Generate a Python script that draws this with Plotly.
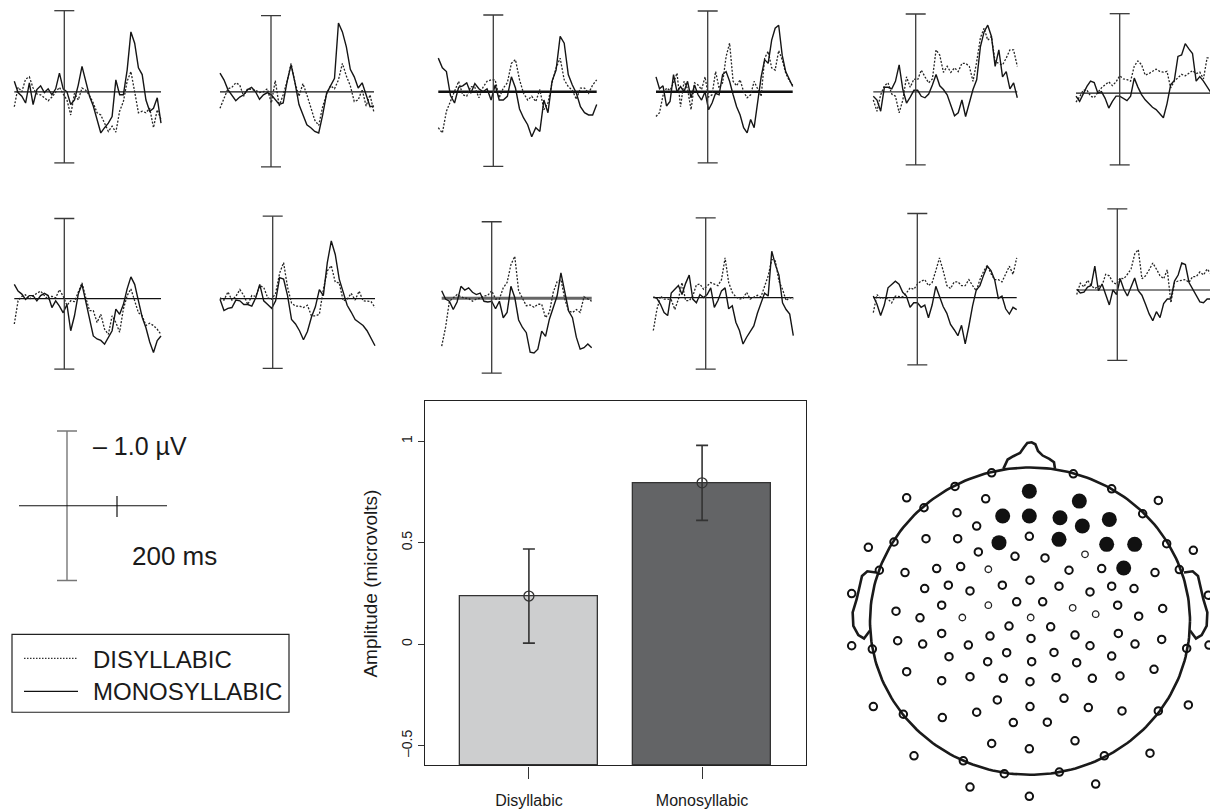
import numpy as np
import plotly.graph_objects as go

# page body adds an 8px margin; the figure is sized and positioned to compensate
OFF = 8
SCREEN_W, SCREEN_H = 1218, 809
W, H = SCREEN_W - OFF, SCREEN_H - OFF
FONT = "Liberation Sans, Arial, sans-serif"
DOT = "2px,1.6px"

# ---------------- ERP data (time in ms, amplitude in microvolts) ----------------
T = [-200, -185, -170, -155, -140, -125, -110, -95, -80, -65, -50, -35, -20, -5, 10, 25, 40, 55, 70, 85,
     100, 115, 130, 145, 160, 175, 190, 205, 220, 235, 250, 265, 280, 295, 310, 325, 340, 355, 370, 385]

P1_MONO = [0.14, -0.01, -0.06, -0.15, 0.12, -0.17, 0.03, 0.08, -0.01, 0.04, -0.04, 0.04, 0.25, 0.04, 0.0, -0.17, -0.11, 0.09, 0.34, 0.12,
           -0.06, -0.19, -0.37, -0.55, -0.48, -0.42, -0.33, 0.16, -0.04, -0.04, 0.29, 0.80, 0.65, 0.32, 0.23, -0.11, -0.26, -0.22, -0.08, -0.42]
P1_DIS = [-0.20, 0.06, 0.0, 0.17, 0.20, 0.05, -0.03, -0.04, -0.08, -0.12, -0.07, -0.01, 0.06, -0.03, -0.11, -0.31, -0.02, -0.11, 0.05, 0.02,
          -0.05, -0.15, -0.28, -0.31, -0.41, -0.53, -0.46, -0.54, -0.26, -0.13, 0.14, 0.27, 0.0, -0.28, -0.26, -0.28, -0.22, -0.48, -0.24, -0.37]
P2_MONO = [0.25, 0.16, 0.03, -0.04, -0.12, -0.07, -0.04, 0.03, 0.06, 0.0, -0.10, -0.04, -0.01, -0.04, -0.11, -0.17, -0.15, 0.14, 0.36, 0.12,
           -0.17, -0.31, -0.44, -0.48, -0.53, -0.55, -0.31, -0.02, 0.09, 0.18, 0.92, 0.80, 0.60, 0.30, 0.20, 0.05, 0.12, -0.05, -0.20, -0.19]
P2_DIS = [-0.22, -0.08, 0.04, 0.06, 0.12, 0.09, -0.06, 0.04, 0.03, 0.02, -0.01, 0.0, 0.04, -0.15, 0.15, -0.19, -0.04, 0.14, 0.38, 0.12,
          -0.06, 0.11, -0.04, -0.22, -0.38, -0.45, -0.20, -0.03, 0.08, 0.04, 0.16, 0.38, 0.21, 0.08, -0.13, -0.11, 0.03, -0.19, -0.04, -0.28]
P3_MONO = [0.45, 0.32, 0.27, -0.05, -0.15, 0.06, 0.08, 0.12, -0.02, 0.11, 0.04, 0.0, 0.04, -0.11, 0.09, -0.11, -0.11, -0.06, 0.20, 0.05,
           -0.23, -0.35, -0.44, -0.60, -0.48, -0.53, -0.11, -0.28, 0.14, 0.29, 0.74, 0.65, 0.23, 0.09, -0.02, -0.20, -0.28, -0.31, -0.31, -0.17]
P3_DIS = [-0.48, -0.55, -0.26, -0.13, 0.02, 0.14, -0.04, -0.06, 0.07, 0.06, -0.08, 0.06, 0.14, 0.16, 0.16, -0.08, 0.05, 0.12, 0.38, 0.43,
          0.16, -0.02, -0.11, -0.06, -0.13, 0.03, -0.24, -0.15, 0.12, 0.32, 0.45, 0.16, 0.07, 0.02, -0.10, 0.05, 0.05, -0.02, 0.09, 0.16]
P4_MONO = [0.20, 0.04, 0.08, -0.19, -0.13, 0.23, 0.0, 0.07, 0.0, 0.14, -0.08, 0.09, -0.04, -0.11, 0.0, -0.24, -0.15, -0.02, -0.04, 0.23,
           0.27, 0.14, -0.04, -0.20, -0.31, -0.48, -0.55, -0.37, -0.48, -0.15, 0.20, 0.43, 0.38, 0.69, 0.85, 0.89, 0.49, 0.27, 0.18, 0.07]
P4_DIS = [-0.33, -0.28, -0.05, 0.05, 0.02, 0.12, 0.25, -0.20, 0.14, 0.04, -0.24, 0.12, 0.09, 0.03, 0.20, -0.07, -0.04, 0.27, 0.05, 0.12,
          0.47, 0.65, 0.14, 0.08, 0.16, 0.0, -0.08, -0.04, 0.14, 0.05, -0.06, 0.45, 0.54, 0.32, 0.29, 0.55, 0.43, 0.25, 0.15, 0.09]
P5_MONO = [-0.06, -0.11, -0.26, 0.06, 0.06, 0.04, 0.14, 0.36, 0.03, -0.15, -0.07, 0.02, 0.02, -0.06, -0.08, -0.03, 0.09, 0.23, 0.08, 0.03,
           -0.04, -0.17, -0.32, -0.28, -0.11, -0.33, -0.15, 0.03, 0.16, 0.60, 0.80, 0.89, 0.74, 0.34, 0.56, 0.20, 0.27, 0.04, 0.12, -0.08]
P5_DIS = [-0.11, -0.26, -0.04, 0.08, 0.12, -0.03, -0.06, -0.28, -0.11, 0.20, 0.06, 0.17, 0.16, 0.29, 0.20, 0.12, 0.17, 0.56, 0.49, 0.26,
          0.34, 0.26, 0.32, 0.27, 0.38, 0.38, 0.34, 0.14, 0.40, 0.72, 0.85, 0.69, 0.74, 0.40, 0.38, 0.36, 0.45, 0.56, 0.56, 0.34]
P6_MONO = [-0.04, -0.11, -0.01, 0.09, 0.16, 0.14, 0.0, 0.02, -0.07, -0.20, -0.11, -0.04, -0.04, -0.07, -0.10, -0.04, 0.20, 0.08, -0.02, -0.09,
           -0.14, -0.19, -0.22, -0.28, -0.33, -0.14, 0.11, 0.17, 0.49, 0.51, 0.66, 0.59, 0.53, 0.16, 0.22, 0.16, 0.09, 0.01, 0.17, 0.18]
P6_DIS = [-0.12, -0.05, 0.04, 0.04, -0.04, -0.06, 0.01, 0.07, 0.11, 0.15, 0.10, 0.15, 0.23, 0.19, 0.18, 0.16, 0.36, 0.43, 0.38, 0.24,
          0.26, 0.29, 0.32, 0.29, 0.28, 0.29, 0.07, 0.16, 0.21, 0.25, 0.23, 0.27, 0.30, 0.26, 0.28, 0.19, 0.47, 0.47, 0.42, 0.38]
P7_MONO = [0.19, 0.10, 0.06, -0.01, 0.04, 0.04, -0.03, 0.04, 0.07, 0.04, -0.12, -0.03, -0.10, -0.19, -0.08, -0.43, -0.23, 0.06, 0.19, -0.05,
           -0.28, -0.50, -0.54, -0.56, -0.61, -0.52, -0.43, -0.14, -0.21, -0.08, 0.13, 0.29, 0.19, -0.03, -0.25, -0.39, -0.58, -0.72, -0.56, -0.50]
P7_DIS = [-0.34, -0.03, 0.03, 0.05, -0.01, 0.04, 0.07, 0.10, 0.04, -0.01, 0.03, 0.01, 0.12, 0.03, -0.09, -0.03, -0.04, 0.09, 0.21, 0.01,
          -0.16, -0.16, -0.32, -0.21, -0.41, -0.48, -0.23, -0.32, -0.45, -0.14, 0.04, 0.13, -0.02, -0.19, -0.23, -0.36, -0.33, -0.36, -0.41, -0.48]
P8_MONO = [-0.01, -0.16, -0.13, -0.12, -0.02, -0.03, -0.08, -0.08, -0.10, 0.01, 0.19, -0.03, -0.08, -0.13, -0.03, 0.28, 0.26, 0.04, -0.28, -0.34,
           -0.43, -0.55, -0.44, -0.25, -0.11, 0.12, 0.04, 0.48, 0.77, 0.59, 0.26, 0.09, -0.09, -0.18, -0.28, -0.32, -0.36, -0.43, -0.54, -0.63]
P8_DIS = [0.01, -0.02, 0.09, -0.02, 0.03, 0.12, 0.04, -0.08, 0.04, 0.03, 0.17, 0.15, 0.01, -0.01, 0.07, 0.34, 0.48, 0.15, -0.06, -0.10,
          -0.10, -0.12, -0.09, -0.23, -0.23, -0.21, 0.12, 0.37, 0.44, 0.22, 0.21, -0.03, -0.01, 0.07, -0.02, 0.10, -0.03, -0.03, -0.04, -0.12]
P9_MONO = [0.10, -0.01, -0.04, -0.15, -0.05, 0.16, 0.11, 0.14, 0.08, 0.05, 0.07, -0.04, -0.05, -0.04, -0.14, -0.04, -0.26, -0.19, 0.16, 0.01,
           -0.29, -0.39, -0.46, -0.72, -0.73, -0.68, -0.44, -0.51, -0.28, -0.11, 0.03, 0.34, 0.08, -0.17, -0.26, -0.52, -0.68, -0.66, -0.61, -0.66]
P9_DIS = [-0.64, -0.39, -0.04, 0.01, 0.05, 0.02, 0.0, 0.0, -0.04, -0.01, 0.0, 0.03, 0.04, 0.10, -0.01, -0.01, 0.14, 0.21, 0.45, 0.56,
          0.10, 0.0, -0.10, -0.09, -0.12, -0.08, -0.08, -0.26, -0.19, 0.08, 0.22, 0.25, -0.01, -0.17, -0.19, -0.15, -0.19, 0.02, -0.01, -0.04]
P10_MONO = [0.01, -0.01, -0.09, -0.20, -0.24, 0.06, 0.11, 0.16, 0.04, 0.19, 0.30, -0.02, -0.07, 0.04, 0.0, 0.04, 0.13, -0.13, -0.04, 0.09,
            0.13, -0.15, -0.11, -0.33, -0.44, -0.62, -0.53, -0.46, -0.38, -0.21, -0.07, 0.06, 0.02, 0.62, 0.44, 0.30, -0.07, -0.16, -0.22, -0.51]
P10_DIS = [-0.44, -0.16, 0.02, -0.02, -0.02, -0.03, -0.16, -0.02, 0.20, -0.04, -0.04, 0.02, 0.17, 0.18, 0.11, 0.16, 0.20, 0.18, 0.16, 0.24,
           0.53, 0.20, 0.07, 0.01, -0.02, -0.01, 0.07, -0.02, 0.0, 0.03, 0.01, 0.16, 0.29, 0.51, 0.49, 0.22, 0.11, -0.04, 0.0, -0.02]
P11_MONO = [0.02, -0.09, -0.24, -0.10, 0.13, 0.18, 0.22, 0.18, 0.07, 0.02, -0.13, -0.07, -0.07, -0.13, -0.10, -0.27, -0.10, 0.15, 0.0, -0.12,
            -0.21, -0.36, -0.43, -0.51, -0.37, -0.62, -0.38, -0.11, 0.10, 0.16, 0.30, 0.42, 0.36, 0.24, -0.01, 0.02, -0.15, -0.22, -0.13, -0.16]
P11_DIS = [-0.20, 0.04, -0.01, 0.0, -0.02, -0.07, 0.02, 0.02, 0.01, 0.06, 0.13, 0.11, 0.18, 0.22, 0.24, 0.16, 0.20, 0.36, 0.53, 0.36,
           0.16, 0.12, 0.21, 0.21, 0.16, 0.16, 0.24, 0.16, 0.09, 0.24, 0.35, 0.43, 0.32, 0.24, 0.24, 0.21, 0.32, 0.42, 0.31, 0.53]
P12_MONO = [0.01, -0.04, -0.03, 0.04, 0.06, 0.32, -0.01, 0.08, -0.06, -0.20, 0.0, -0.06, 0.15, 0.01, -0.08, 0.05, 0.16, -0.01, -0.07, -0.19,
            -0.32, -0.41, -0.29, -0.37, -0.18, -0.12, -0.12, 0.12, 0.20, 0.36, 0.34, 0.10, 0.01, -0.08, -0.16, -0.17, -0.12, -0.12, -0.10, -0.26]
P12_DIS = [-0.06, 0.09, 0.04, 0.13, 0.06, 0.02, 0.05, 0.06, 0.21, 0.19, 0.10, 0.08, 0.16, 0.15, 0.21, 0.28, 0.48, 0.54, 0.15, 0.19,
           0.27, 0.36, 0.28, 0.19, 0.15, 0.27, -0.17, 0.10, 0.12, 0.13, 0.14, 0.10, 0.18, 0.18, 0.24, 0.20, 0.28, 0.22, 0.36, 0.32]

# ---------------- bar chart data ----------------
CONDITIONS = ["Disyllabic", "Monosyllabic"]
MEAN_AMP = [0.237, 0.795]
ERR_AMP = [0.232, 0.185]
BAR_COLORS = ["#cdcecf", "#636466"]

# ---------------- sensor layout (head-image units) ----------------
SENS_X = [455, 700, 345, 815, 200, 437, 955, 252, 908, 351, 410, 258, 353, 568, 162, 980, 85, 1060, 415, 525, 615,
          118, 195, 290, 362, 687, 785, 945, 1018, 570, 325, 487, 657, 815, 882, 254, 390, 750, 35, 1105, 530, 608,
          305, 833, 968, 168, 240, 896, 507, 632, 305, 450, 705, 835, 173, 248, 385, 573, 750, 885, 965, 35, 97,
          1040, 1107, 500, 642, 327, 815, 443, 575, 710, 200, 942, 305, 390, 490, 648, 757, 840, 570, 472, 672,
          100, 410, 570, 745, 846, 1045, 190, 955, 307, 520, 622, 455, 568, 705, 222, 930, 370, 793, 493, 658,
          390, 767, 568]
SENS_Y = [132, 135, 173, 180, 207, 210, 215, 237, 255, 252, 292, 330, 330, 323, 340, 345, 356, 365, 370, 383, 388,
          425, 432, 420, 414, 425, 420, 432, 423, 455, 470, 470, 473, 473, 480, 480, 487, 490, 495, 500, 520, 520,
          530, 530, 540, 548, 568, 563, 593, 595, 615, 623, 620, 615, 637, 647, 650, 630, 652, 647, 633, 652, 662,
          660, 650, 673, 672, 685, 683, 700, 700, 703, 730, 723, 757, 745, 750, 748, 750, 743, 760, 815, 810,
          835, 852, 835, 838, 848, 830, 858, 848, 868, 883, 882, 946, 962, 938, 983, 975, 998, 983, 1037, 1032,
          1077, 1068, 1105]
SMALL_X = [445, 445, 367, 572, 735, 698, 767]
SMALL_Y = [422, 530, 567, 567, 377, 538, 557]
SIG_X = [568, 718, 488, 568, 660, 727, 808, 477, 657, 800, 884, 851]
SIG_Y = [187, 217, 262, 262, 267, 292, 272, 342, 332, 347, 347, 418]

# panel placement (screen pixels) and styles
PANELS = [
    dict(mono=P1_MONO, dis=P1_DIS, L=14.3, R=161.0, base=92.0, V=64.3, top=10.7, bot=163.3, bw=1.2, bc="#111"),
    dict(mono=P2_MONO, dis=P2_DIS, L=220.0, R=374.0, base=92.0, V=271.0, top=15.7, bot=167.3, bw=1.2, bc="#111"),
    dict(mono=P3_MONO, dis=P3_DIS, L=438.3, R=596.7, base=92.0, V=493.3, top=15.0, bot=166.7, bw=2.6, bc="#111"),
    dict(mono=P4_MONO, dis=P4_DIS, L=656.0, R=792.7, base=92.0, V=707.7, top=11.0, bot=163.3, bw=2.4, bc="#111"),
    dict(mono=P5_MONO, dis=P5_DIS, L=873.3, R=1017.3, base=92.0, V=915.7, top=14.0, bot=165.3, bw=1.3, bc="#333"),
    dict(mono=P6_MONO, dis=P6_DIS, L=1076.0, R=1218.0, base=93.3, V=1119.7, top=13.7, bot=165.3, bw=1.2, bc="#111"),
    dict(mono=P7_MONO, dis=P7_DIS, L=14.3, R=161.0, base=299.3, V=64.3, top=219.0, bot=370.0, bw=1.2, bc="#111"),
    dict(mono=P8_MONO, dis=P8_DIS, L=220.0, R=375.0, base=299.3, V=272.7, top=216.7, bot=369.3, bw=1.2, bc="#111"),
    dict(mono=P9_MONO, dis=P9_DIS, L=441.7, R=591.7, base=299.0, V=491.7, top=222.3, bot=374.0, bw=3.0, bc="#666"),
    dict(mono=P10_MONO, dis=P10_DIS, L=653.3, R=793.3, base=298.3, V=705.7, top=218.3, bot=370.0, bw=1.2, bc="#111"),
    dict(mono=P11_MONO, dis=P11_DIS, L=873.3, R=1016.7, base=298.3, V=917.3, top=214.0, bot=365.7, bw=1.3, bc="#111"),
    dict(mono=P12_MONO, dis=P12_DIS, L=1076.7, R=1218.0, base=290.7, V=1117.3, top=209.3, bot=361.3, bw=1.2, bc="#111"),
]

PX_PER_UV = 75.0
XMIN_S, XMAX_S = OFF, OFF + W
YMIN_S, YMAX_S = OFF, OFF + H


def px(x):
    return (x - OFF) / W


def py(y):
    return 1 - (y - OFF) / H


fig = go.Figure()
layout = {"annotations": []}
axis_counter = [0]


def new_axes(x0s, x1s, y0s, y1s, xr, yr):
    """Screen-pixel box (left, right, top, bottom) -> hidden axis pair with given ranges."""
    axis_counter[0] += 1
    n = axis_counter[0]
    sfx = "" if n == 1 else str(n)
    hidden = dict(visible=False, showgrid=False, zeroline=False, fixedrange=True)
    layout["xaxis" + sfx] = dict(hidden, domain=[px(x0s), px(x1s)], range=xr, anchor="y" + sfx)
    layout["yaxis" + sfx] = dict(hidden, domain=[py(y1s), py(y0s)], range=yr, anchor="x" + sfx)
    return "x" + sfx, "y" + sfx


def line(xa, ya, x, y, color, width, dash="solid"):
    fig.add_trace(go.Scatter(x=x, y=y, mode="lines", xaxis=xa, yaxis=ya, hoverinfo="skip",
                             line=dict(color=color, width=width, dash=dash)))


t0, t1 = T[0], T[-1]
for p in PANELS:
    k = (p["R"] - p["L"]) / (t1 - t0)          # px per ms
    xd0 = max(p["L"] - 14, XMIN_S)
    xd1 = min(p["R"] + 6, XMAX_S)
    xr = [t0 - (p["L"] - xd0) / k, t1 + (xd1 - p["R"]) / k]
    ytop = max(p["top"] - 6, YMIN_S)
    ybot = p["bot"] + 6
    yr = [-(ybot - p["base"]) / PX_PER_UV, (p["base"] - ytop) / PX_PER_UV]
    xa, ya = new_axes(xd0, xd1, ytop, ybot, xr, yr)
    line(xa, ya, [t0, t1], [0, 0], p["bc"], p["bw"])
    line(xa, ya, T, p["dis"], "#262626", 1.3, DOT)
    line(xa, ya, T, p["mono"], "#151515", 1.4)
    tv = t0 + (p["V"] - p["L"]) / k
    up = (p["base"] - p["top"]) / PX_PER_UV
    dn = -(p["bot"] - p["base"]) / PX_PER_UV
    cap = 10 / k
    line(xa, ya, [tv, tv, None, tv - cap, tv + cap, None, tv - cap, tv + cap],
         [up, dn, None, up, up, None, dn, dn], "#3a3a3a", 1.3)

# ---------------- calibration legend ----------------
LEG_X0, LEG_X1, LEG_V = OFF, 240, 67
LEG_TOP, LEG_BOT, LEG_BASE = 405, 600, 507
k = 50 / 200.0
xa, ya = new_axes(LEG_X0, LEG_X1, LEG_TOP, LEG_BOT,
                  [(LEG_X0 - LEG_V) / k, (LEG_X1 - LEG_V) / k],
                  [-(LEG_BOT - LEG_BASE) / PX_PER_UV, (LEG_BASE - LEG_TOP) / PX_PER_UV])
cap = 10 / k
line(xa, ya, [0, 0, None, -cap, cap, None, -cap, cap], [1.0, -1.0, None, 1.0, 1.0, None, -1.0, -1.0], "#777", 1.4)
line(xa, ya, [-192, 400], [0, 0], "#111", 1.2)
line(xa, ya, [200, 200], [-0.15, 0.13], "#111", 1.2)
layout["annotations"] += [
    dict(x=96, y=0.8, xref=xa, yref=ya, text="– 1.0 µV", showarrow=False, xanchor="left", yanchor="middle",
         font=dict(family=FONT, size=25, color="#1a1a1a")),
    dict(x=252, y=-0.67, xref=xa, yref=ya, text="200 ms", showarrow=False, xanchor="left", yanchor="middle",
         font=dict(family=FONT, size=26, color="#1a1a1a")),
]

# ---------------- condition legend box ----------------
layout["shapes"] = [
    dict(type="rect", xref="paper", yref="paper", x0=px(12), x1=px(289), y0=py(714), y1=py(636),
         line=dict(color="#222", width=1.2)),
    dict(type="line", xref="paper", yref="paper", x0=px(24), x1=px(78), y0=py(660), y1=py(660),
         line=dict(color="#333", width=1.1, dash="1.5px,1.5px")),
    dict(type="line", xref="paper", yref="paper", x0=px(24), x1=px(78), y0=py(693), y1=py(693),
         line=dict(color="#111", width=1.3)),
]
layout["annotations"] += [
    dict(x=px(91), y=py(661), xref="paper", yref="paper", text="DISYLLABIC", showarrow=False,
         xanchor="left", yanchor="middle", font=dict(family=FONT, size=24, color="#1a1a1a")),
    dict(x=px(91), y=py(693), xref="paper", yref="paper", text="MONOSYLLABIC", showarrow=False,
         xanchor="left", yanchor="middle", font=dict(family=FONT, size=24, color="#1a1a1a")),
]

# ---------------- bar chart ----------------
YMIN, YMAX = -0.598, 1.197
axis_counter[0] += 1
n = axis_counter[0]
bx, by = "x%d" % n, "y%d" % n
layout["xaxis%d" % n] = dict(domain=[px(425), px(806)], range=[-0.6, 1.6], anchor=by,
                             tickvals=[0, 1], ticktext=CONDITIONS, ticks="outside", ticklen=12,
                             tickwidth=1.2, tickcolor="#333", showline=True, mirror=True, linecolor="#222",
                             linewidth=1.2, showgrid=False, zeroline=False, fixedrange=True,
                             ticklabelstandoff=8,
                             tickfont=dict(family=FONT, size=16, color="#1a1a1a"))
layout["yaxis%d" % n] = dict(domain=[py(767.3), py(402.3)], range=[YMIN, YMAX], anchor=bx,
                             tickvals=[-0.5, 0, 0.5, 1], ticktext=["–0.5", "0", "0.5", "1"],
                             tickangle=-90, ticks="outside", ticklen=6, tickwidth=1.2, tickcolor="#333",
                             showline=True, mirror=True, linecolor="#222", linewidth=1.2,
                             showgrid=False, zeroline=False, fixedrange=True,
                             tickfont=dict(family=FONT, size=14, color="#1a1a1a"))
fig.add_trace(go.Bar(x=[0, 1], y=[v - YMIN for v in MEAN_AMP], base=YMIN, width=0.8, xaxis=bx, yaxis=by,
                     marker=dict(color=BAR_COLORS, line=dict(color="#333", width=1.3)), hoverinfo="skip"))
fig.add_trace(go.Scatter(x=[0, 1], y=MEAN_AMP, mode="markers", xaxis=bx, yaxis=by, hoverinfo="skip",
                         marker=dict(symbol="circle-open", size=10, color="#333", line=dict(width=1.3)),
                         error_y=dict(type="data", array=ERR_AMP, color="#333", thickness=1.6, width=6)))
layout["annotations"].append(
    dict(x=px(371), y=py(585), xref="paper", yref="paper", text="Amplitude (microvolts)", showarrow=False,
         textangle=-90, xanchor="center", yanchor="middle", font=dict(family=FONT, size=19, color="#1a1a1a")))

# ---------------- head map ----------------
xa, ya = new_axes(840, SCREEN_W, 430, SCREEN_H, [0, 1134], [1137, 0])
theta = np.linspace(0, 2 * np.pi, 241)
HEAD_CX, HEAD_CY, HEAD_RX, HEAD_RY = 570, 578, 480, 462
line(xa, ya, HEAD_CX + HEAD_RX * np.cos(theta), HEAD_CY + HEAD_RY * np.sin(theta), "#1a1a1a", 2.6)
NOSE_X = [490, 503, 520, 540, 552, 562, 575, 586, 594, 608, 628, 642, 645]
NOSE_Y = [120, 92, 82, 72, 55, 42, 40, 46, 66, 80, 90, 100, 120]
line(xa, ya, NOSE_X, NOSE_Y, "#1a1a1a", 2.6)
EAR_X = [108, 82, 66, 60, 50, 38, 40, 55, 72, 90]
EAR_Y = [432, 428, 442, 472, 512, 552, 592, 620, 630, 606]
line(xa, ya, EAR_X, EAR_Y, "#1a1a1a", 2.6)
line(xa, ya, [2 * HEAD_CX - x for x in EAR_X], EAR_Y, "#1a1a1a", 2.6)
fig.add_trace(go.Scatter(x=SENS_X, y=SENS_Y, mode="markers", xaxis=xa, yaxis=ya, hoverinfo="skip",
                         marker=dict(symbol="circle-open", size=7.5, color="#111", line=dict(width=2.0))))
fig.add_trace(go.Scatter(x=SMALL_X, y=SMALL_Y, mode="markers", xaxis=xa, yaxis=ya, hoverinfo="skip",
                         marker=dict(symbol="circle-open", size=6.5, color="#222", line=dict(width=1.3))))
fig.add_trace(go.Scatter(x=SIG_X, y=SIG_Y, mode="markers", xaxis=xa, yaxis=ya, hoverinfo="skip",
                         marker=dict(symbol="circle", size=15, color="#111", line=dict(width=0))))

layout.update(dict(width=W, height=H, margin=dict(l=0, r=0, t=0, b=0), showlegend=False,
                   paper_bgcolor="white", plot_bgcolor="rgba(0,0,0,0)", bargap=0,
                   font=dict(family=FONT, color="#1a1a1a")))
fig.update_layout(**layout)
fig.write_html("out.html")
